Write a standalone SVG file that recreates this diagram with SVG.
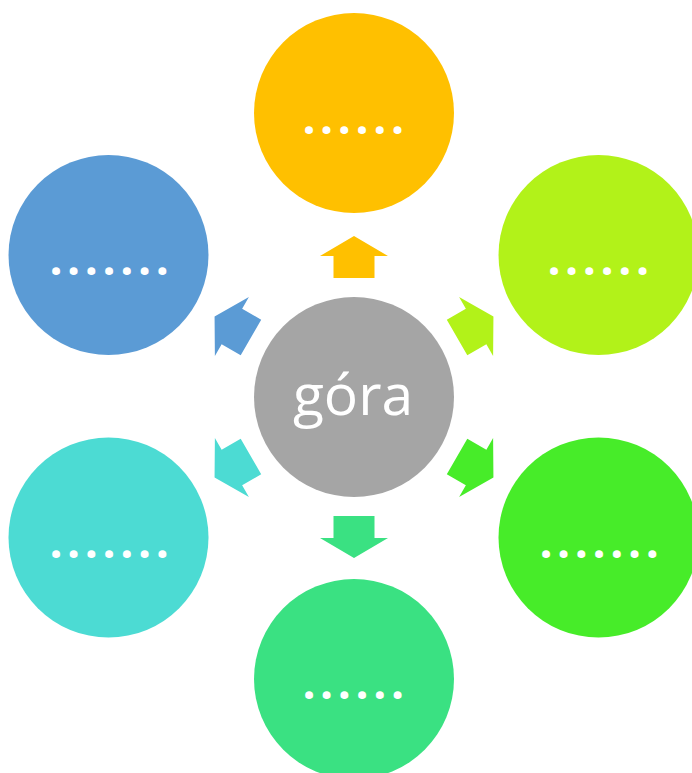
<svg xmlns="http://www.w3.org/2000/svg" width="692" height="773" viewBox="0 0 692 773">
<defs>
<style>
.dots{font-family:"Open Sans","Liberation Sans",sans-serif;font-weight:bold;font-size:46px;fill:#fff;letter-spacing:4.6px}
.main{font-family:"Open Sans","Liberation Sans",sans-serif;font-size:57px;fill:#fff;text-anchor:middle}
</style>
<path id="arr" d="M0,-161 L34,-141 L20.5,-141 L20.5,-119 L-20.5,-119 L-20.5,-141 L-34,-141 Z"/>
</defs>
<rect width="692" height="773" fill="#fff"/>
<g id="connectors">
<use href="#arr" fill="#FFC000" transform="translate(354,397)"/>
<use href="#arr" fill="#B2F219" transform="translate(354,397) rotate(60)"/>
<use href="#arr" fill="#47EC29" transform="translate(354,397) rotate(120)"/>
<use href="#arr" fill="#3AE182" transform="translate(354,397) rotate(180)"/>
<use href="#arr" fill="#4CDBD3" transform="translate(354,397) rotate(240)"/>
<use href="#arr" fill="#5B9BD5" transform="translate(354,397) rotate(300)"/>
</g>
<g id="center">
<circle cx="354" cy="397" r="100" fill="#A5A5A5"/>
<text class="main" x="353" y="415">góra</text>
</g>
<g id="top">
<circle cx="354" cy="113" r="100" fill="#FFC000"/>
<text class="dots" x="302.4" y="133.5">......</text>
</g>
<g id="upper-right">
<circle cx="598.5" cy="255" r="100" fill="#B2F219"/>
<text class="dots" x="547.4" y="274.5">......</text>
</g>
<g id="lower-right">
<circle cx="598.5" cy="537.5" r="100" fill="#47EC29"/>
<text class="dots" x="539.4" y="557.5">.......</text>
</g>
<g id="bottom">
<circle cx="354" cy="679" r="100" fill="#3AE182"/>
<text class="dots" x="302.4" y="699">......</text>
</g>
<g id="lower-left">
<circle cx="108.5" cy="537.5" r="100" fill="#4CDBD3"/>
<text class="dots" x="49.4" y="557.5">.......</text>
</g>
<g id="upper-left">
<circle cx="108.5" cy="255" r="100" fill="#5B9BD5"/>
<text class="dots" x="49.4" y="274.5">.......</text>
</g>
</svg>
